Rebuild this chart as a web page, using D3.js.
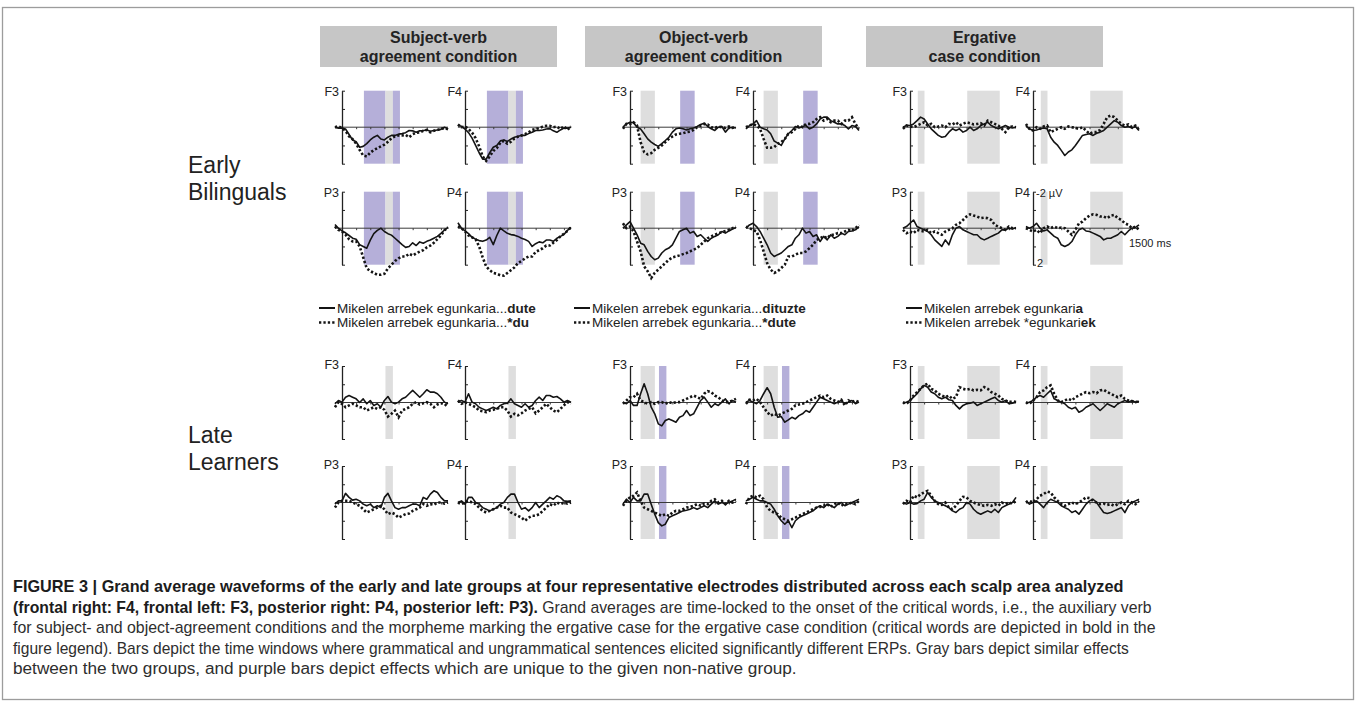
<!DOCTYPE html>
<html><head><meta charset="utf-8">
<script src="https://cdn.jsdelivr.net/npm/d3@7"></script>
<style>
body{margin:0;background:#fff;}
svg{display:block;font-family:Arial,"Liberation Sans",Helvetica,sans-serif;}
</style>
</head><body>
<svg id="chart" width="1357" height="706"></svg>
<script>
// ---------- DATA ----------
const times = [-100,-50,0,50,100,150,200,250,300,350,400,450,500,550,600,650,700,750,800,850,900,950,1000,1050,1100,1150,1200,1250,1300,1350,1400,1450,1500];
const conditionTitles = [["Subject-verb","agreement condition"],["Object-verb","agreement condition"],["Ergative","case condition"]];
const groupLabels = [["Early","Bilinguals"],["Late","Learners"]];
const electrodes = ["F3","F4","P3","P4"];

// significance windows (ms); kind: shared = gray, unique = purple
const winEarlySub = [{from:310,to:615,kind:"unique"},{from:615,to:720,kind:"shared"},{from:720,to:820,kind:"unique"}];
const winEarlyObj = [{from:150,to:352,kind:"shared"},{from:710,to:915,kind:"unique"}];
const winEarlyErg = [{from:110,to:205,kind:"shared"},{from:810,to:1270,kind:"shared"}];
const winLateSub  = [{from:615,to:720,kind:"shared"}];
const winLateObj  = [{from:150,to:352,kind:"shared"},{from:410,to:515,kind:"unique"}];
const winLateErg  = [{from:110,to:205,kind:"shared"},{from:810,to:1270,kind:"shared"}];

// waveforms in microvolts (negative plotted up); s = grammatical (solid), d = ungrammatical (dotted)
const eSubF3s = [0,0.05,0.05,0.1,0.4,0.7,0.8,1.1,1.05,0.9,0.7,0.55,0.45,0.65,0.7,0.55,0.45,0.45,0.38,0.35,0.3,0.18,0.2,0.28,0.2,0.18,0.15,0.22,0.18,0.15,0.12,0.0,0.08];
const eSubF3d = [0,-0.05,0.05,0.2,0.5,0.65,0.9,1.25,1.55,1.6,1.4,1.25,1.15,1.05,0.95,0.8,0.6,0.5,0.45,0.45,0.42,0.55,0.38,0.3,0.28,0.2,0.15,0.28,0.2,0.15,0.1,0.05,0.12];
const eSubF4s = [-0.1,-0.05,0.1,0.3,0.6,1.0,1.4,1.75,1.75,1.4,1.1,1.0,0.75,0.7,0.78,0.65,0.55,0.5,0.45,0.45,0.35,0.28,0.18,0.18,0.15,0.1,0.08,0.2,0.28,0.15,0.05,0.05,0.0];
const eSubF4d = [-0.15,0.0,-0.05,0.1,0.3,0.6,1.05,1.6,1.85,1.6,1.3,1.15,0.85,0.75,0.9,0.8,0.62,0.52,0.45,0.38,0.28,0.15,0.1,0.05,-0.03,-0.08,-0.08,0.0,-0.03,0.1,-0.05,0.15,-0.05];
const eSubP3s = [-0.2,0.0,0.15,0.25,0.4,0.55,0.6,0.9,1.0,1.1,0.65,0.3,0.12,0.0,0.18,0.3,0.38,0.55,0.72,0.9,1.05,1.0,0.8,0.95,0.75,0.82,0.72,0.65,0.55,0.45,0.28,0.1,-0.05];
const eSubP3d = [-0.1,0.1,0.18,0.35,0.6,0.72,0.72,1.0,1.6,2.2,2.35,2.45,2.55,2.55,2.5,2.2,2.0,1.8,1.65,1.55,1.55,1.4,1.5,1.38,1.28,1.2,1.05,0.95,0.8,0.6,0.4,0.12,-0.05];
const eSubP4s = [-0.3,0.0,0.15,0.3,0.5,0.6,0.68,0.72,0.65,0.5,0.9,0.4,0.0,0.15,0.28,0.35,0.38,0.45,0.55,0.62,0.72,1.0,0.85,0.75,0.8,0.65,0.65,0.72,0.55,0.45,0.35,0.12,-0.05];
const eSubP4d = [-0.1,0.0,0.18,0.4,0.5,0.6,1.0,1.6,2.1,2.3,2.45,2.5,2.58,2.6,2.45,2.3,2.15,1.9,1.8,1.65,1.55,1.55,1.3,1.2,1.1,0.95,0.95,0.8,0.65,0.45,0.3,0.15,-0.05];

const eObjF3s = [0.0,-0.18,-0.27,-0.25,0.0,0.1,0.36,0.64,0.82,0.95,1.05,0.9,0.73,0.55,0.27,0.09,0.04,0.09,0.15,0.09,0.04,-0.04,-0.15,-0.22,-0.04,0.09,0.18,0.0,-0.04,0.27,0.04,0.0,0.04];
const eObjF3d = [0.09,-0.18,-0.18,-0.27,-0.09,0.82,1.36,1.49,1.42,1.24,1.13,1.0,0.82,0.64,0.51,0.4,0.36,0.33,0.27,0.24,0.15,0.0,-0.09,-0.18,-0.15,0.0,0.04,-0.04,0.0,0.04,-0.04,0.04,0.0];
const eObjF4s = [0.09,-0.09,-0.18,-0.36,0.0,0.09,0.15,0.36,0.76,0.87,1.0,0.64,0.36,0.18,-0.04,0.04,-0.04,-0.09,0.09,0.0,-0.18,-0.45,-0.55,-0.55,-0.36,-0.27,-0.18,-0.18,-0.09,0.09,-0.09,-0.04,0.18];
const eObjF4d = [0.0,-0.09,-0.18,-0.09,0.09,0.64,1.13,1.13,1.09,0.91,0.82,0.64,0.36,0.27,0.09,-0.09,0.0,-0.18,-0.18,-0.27,-0.45,-0.55,-0.36,-0.45,-0.27,-0.36,-0.36,-0.18,-0.36,-0.36,-0.55,-0.18,0.09];
const eObjP3s = [0.0,-0.18,-0.36,0.0,0.36,0.82,0.91,1.27,1.55,1.73,1.64,1.36,1.18,1.09,0.91,0.55,0.18,0.09,0.0,0.27,0.18,0.45,0.36,0.55,0.73,0.55,0.45,0.36,0.18,0.27,0.15,0.04,-0.04];
const eObjP3d = [-0.27,0.0,-0.09,0.18,0.73,1.27,2.09,2.36,2.73,2.45,2.27,2.09,1.91,1.73,1.6,1.55,1.49,1.42,1.36,1.27,1.18,1.09,0.91,0.73,0.55,0.45,0.36,0.27,0.22,0.15,0.09,0.0,-0.09];
const eObjP4s = [0.0,-0.18,-0.27,-0.09,0.18,0.55,0.91,1.36,1.55,1.45,1.36,1.18,1.0,0.91,0.55,0.36,0.0,0.27,0.18,0.45,0.36,0.73,0.45,0.64,0.36,0.55,0.45,0.27,0.36,0.18,0.15,0.09,-0.09];
const eObjP4d = [-0.09,0.0,0.09,0.18,0.64,1.27,1.91,2.27,2.45,2.36,2.18,2.0,1.55,1.55,1.45,1.36,1.36,1.27,1.09,0.91,0.64,0.55,0.45,0.55,0.36,0.36,0.27,0.27,0.18,0.09,0.15,0.0,-0.18];

const eErgF3s = [0.0,-0.09,-0.09,-0.18,-0.36,-0.55,-0.45,-0.18,0.09,0.27,0.45,0.55,0.51,0.27,0.09,0.18,0.09,0.27,0.18,0.0,0.18,0.09,-0.09,-0.18,-0.27,-0.09,0.0,0.09,0.0,-0.09,0.0,0.04,0.0];
const eErgF3d = [0.09,-0.09,-0.04,0.0,-0.09,-0.18,-0.27,-0.09,-0.18,0.0,-0.04,-0.09,0.0,-0.18,-0.15,-0.27,-0.09,-0.18,-0.27,-0.22,-0.15,-0.18,-0.22,-0.09,-0.36,-0.27,-0.18,-0.09,0.09,0.27,0.0,-0.04,0.0];
const eErgF4s = [-0.09,0.09,0.18,0.15,0.09,0.04,0.09,0.55,0.82,1.0,1.27,1.55,1.36,1.24,1.0,0.73,0.45,0.4,0.36,0.45,0.33,0.27,0.18,0.0,-0.18,-0.36,-0.27,-0.09,0.0,-0.04,0.04,-0.04,0.18];
const eErgF4d = [-0.18,0.09,0.18,0.0,0.09,-0.04,-0.09,0.27,0.18,0.09,0.0,0.09,-0.04,0.0,0.04,0.09,0.0,0.18,0.36,0.27,0.27,0.15,-0.18,-0.55,-0.64,-0.55,-0.36,-0.18,-0.09,-0.15,0.0,-0.09,0.15];
const eErgP3s = [0.0,-0.09,-0.27,-0.45,-0.09,0.0,0.09,0.18,0.36,0.64,0.82,1.0,0.64,0.91,0.36,0.0,-0.09,0.09,0.18,0.27,0.36,0.36,0.55,0.64,0.55,0.45,0.36,0.27,0.09,0.09,0.0,0.04,-0.04];
const eErgP3d = [0.09,0.27,0.18,0.27,0.09,0.15,0.18,0.09,0.27,0.18,0.27,0.36,0.18,0.09,0.0,-0.18,-0.27,-0.45,-0.64,-0.76,-0.69,-0.64,-0.55,-0.58,-0.55,-0.45,-0.18,-0.09,0.0,0.09,-0.09,0.0,0.0];
const eErgP4s = [-0.09,0.0,-0.09,-0.27,0.0,0.15,0.09,0.27,0.45,0.55,0.91,1.0,0.91,0.73,0.36,0.09,0.0,0.15,0.18,0.27,0.36,0.45,0.64,0.55,0.55,0.45,0.36,0.18,0.36,0.15,0.0,-0.04,-0.18];
const eErgP4d = [0.0,0.09,0.18,0.09,0.27,0.0,-0.09,0.0,-0.09,0.0,-0.04,0.0,0.18,0.36,0.09,-0.27,-0.36,-0.55,-0.69,-0.76,-0.73,-0.64,-0.64,-0.55,-0.69,-0.73,-0.55,-0.45,-0.27,-0.18,0.0,-0.09,0.09];

const lSubF3s = [0.07,-0.11,-0.02,-0.29,-0.38,-0.29,-0.2,0.0,-0.2,0.07,-0.11,0.16,0.07,0.26,-0.11,-0.33,-0.02,0.07,-0.02,-0.2,-0.29,-0.48,-0.66,-0.48,-0.29,-0.48,-0.7,-0.57,-0.57,-0.48,-0.29,-0.02,0.07];
const lSubF3d = [0.26,-0.02,0.07,0.26,0.16,0.07,0.16,0.26,0.26,0.44,0.35,0.26,0.35,0.26,0.4,0.77,0.62,0.44,0.81,0.44,0.35,0.26,0.07,-0.02,0.11,0.04,-0.02,0.07,0.26,0.11,0.04,0.07,0.26];
const lSubF4s = [-0.02,-0.11,-0.02,-0.48,-0.02,0.07,0.26,0.35,0.44,0.35,0.26,0.35,0.16,0.07,0.04,-0.2,0.07,0.16,0.26,0.07,0.26,0.16,-0.11,-0.29,-0.11,-0.38,-0.38,-0.29,-0.33,-0.2,-0.02,-0.11,-0.02];
const lSubF4d = [-0.11,0.07,-0.02,0.07,0.16,0.26,0.44,0.48,0.53,0.44,0.4,0.35,0.26,0.26,0.44,0.77,0.62,0.7,0.59,0.44,0.35,0.26,0.59,0.44,0.26,0.07,0.26,0.44,0.53,0.35,0.16,-0.02,0.07];
const lSubP3s = [0.09,-0.09,-0.09,-0.5,-0.28,-0.13,-0.18,-0.09,0.09,0.18,0.09,0.28,0.18,0.28,-0.28,-0.5,-0.09,0.28,0.37,0.28,0.28,0.18,0.09,0.09,0.18,-0.28,-0.18,-0.46,-0.64,-0.55,-0.28,-0.09,-0.09];
const lSubP3d = [0.28,0.0,-0.09,-0.09,-0.09,0.0,0.09,0.18,0.37,0.55,0.46,0.37,0.28,0.18,0.37,0.64,0.55,0.64,0.83,0.73,0.64,0.6,0.46,0.37,0.28,0.09,0.18,0.09,0.13,0.0,0.0,0.06,0.0];
const lSubP4s = [0.0,-0.09,0.09,-0.28,-0.28,0.0,0.09,0.28,0.37,0.46,0.37,0.28,0.09,0.0,-0.28,-0.46,-0.46,0.0,0.37,0.28,0.46,0.28,0.0,0.28,0.09,-0.09,-0.28,-0.18,-0.37,-0.28,-0.09,-0.06,-0.09];
const lSubP4d = [0.0,0.09,0.0,-0.09,0.0,0.09,0.28,0.46,0.55,0.46,0.37,0.28,0.18,0.28,0.28,0.55,0.64,0.73,0.83,1.0,0.83,0.73,0.73,0.64,0.46,0.28,0.09,0.18,0.0,0.09,0.0,0.06,0.0];

const lObjF3s = [-0.02,0.07,-0.11,0.16,0.16,-0.48,-1.03,-0.48,0.26,0.62,1.17,1.28,0.99,0.9,0.99,1.08,0.81,0.72,0.44,0.72,0.62,0.26,-0.11,-0.29,-0.02,0.26,0.07,0.16,-0.02,-0.2,0.07,-0.11,-0.02];
const lObjF3d = [0.07,-0.11,-0.29,-0.29,-0.48,-0.11,-0.02,0.07,-0.02,0.07,-0.02,-0.02,0.07,-0.02,0.04,-0.02,-0.02,-0.11,-0.2,-0.29,-0.38,-0.29,-0.2,-0.48,-0.62,-0.57,-0.38,-0.29,-0.11,-0.02,-0.02,-0.11,-0.2];
const lObjF4s = [-0.02,-0.11,-0.02,0.07,-0.11,-0.48,-0.81,-0.48,0.26,0.81,0.77,1.08,0.95,0.81,0.9,0.72,0.62,0.44,0.53,0.26,-0.02,-0.29,-0.2,-0.11,-0.02,0.07,-0.02,-0.11,0.07,-0.02,-0.11,0.07,-0.02];
const lObjF4d = [0.07,-0.15,-0.11,-0.2,-0.02,0.26,0.53,0.72,0.62,0.72,0.62,0.53,0.44,0.35,0.16,0.11,0.07,-0.02,-0.11,-0.2,-0.29,-0.38,-0.29,-0.38,-0.2,-0.11,-0.02,-0.15,0.16,-0.11,-0.02,-0.11,-0.02];
const lObjP3s = [0.09,-0.18,0.0,-0.28,-0.09,-0.09,-0.46,-0.46,0.09,0.64,1.1,1.28,1.19,0.83,0.73,0.64,0.55,0.46,0.42,0.37,0.28,0.37,0.28,0.18,0.28,0.09,-0.09,0.09,0.0,0.09,0.0,-0.09,-0.18];
const lObjP3d = [0.18,-0.09,-0.28,-0.37,-0.55,-0.09,0.28,0.37,0.46,0.55,0.64,0.73,0.64,0.73,0.55,0.46,0.46,0.37,0.28,0.24,0.18,0.09,0.18,0.06,0.09,-0.09,-0.18,0.0,-0.09,0.09,-0.09,0.0,-0.09];
const lObjP4s = [-0.09,-0.18,-0.28,-0.18,-0.09,-0.09,0.0,0.09,0.37,0.73,1.0,1.19,1.0,1.38,1.0,0.83,0.73,0.64,0.55,0.46,0.28,0.18,0.28,0.09,0.18,0.28,0.09,0.0,0.18,0.09,0.0,-0.09,-0.18];
const lObjP4d = [0.09,-0.28,-0.37,-0.28,-0.37,-0.18,0.28,0.46,0.55,0.64,0.83,0.92,1.0,0.92,0.83,0.73,0.64,0.55,0.46,0.37,0.28,0.24,0.18,0.09,0.24,0.09,0.0,0.18,0.06,0.09,0.0,0.09,-0.09];

const lErgF3s = [0.07,-0.02,-0.11,-0.29,-0.48,-0.75,-0.94,-0.84,-0.57,-0.48,-0.29,-0.2,-0.29,-0.15,-0.11,0.16,0.35,0.16,0.07,0.04,-0.02,0.16,0.07,-0.02,-0.11,-0.2,-0.29,-0.11,-0.02,-0.11,0.07,0.04,-0.02];
const lErgF3d = [-0.02,0.07,-0.11,-0.38,-0.57,-0.75,-0.94,-1.03,-0.75,-0.66,-0.48,-0.38,-0.29,-0.38,-0.2,-0.29,-0.84,-0.75,-0.7,-0.75,-0.66,-0.7,-0.66,-0.84,-0.75,-0.57,-0.48,-0.38,-0.2,-0.11,-0.02,-0.07,-0.02];
const lErgF4s = [0.07,-0.02,-0.11,-0.29,-0.38,-0.29,-0.48,-0.66,-0.2,-0.11,-0.02,0.07,0.26,0.35,0.26,0.53,0.44,0.26,0.16,0.07,0.26,0.44,0.26,0.07,0.16,0.26,0.07,-0.02,-0.11,-0.02,-0.11,-0.02,-0.07];
const lErgF4d = [-0.02,0.07,-0.11,-0.29,-0.57,-0.66,-0.84,-0.94,-0.48,-0.11,-0.02,-0.11,-0.2,-0.11,-0.29,-0.38,-0.48,-0.57,-0.51,-0.57,-0.51,-0.66,-0.7,-0.57,-0.48,-0.38,-0.29,-0.38,-0.2,-0.11,-0.07,-0.02,-0.07];
const lErgP3s = [0.0,0.09,0.0,0.09,0.06,-0.09,-0.18,-0.55,-0.28,-0.09,0.0,0.09,0.18,0.28,0.46,0.55,0.37,0.28,0.0,0.09,0.37,0.55,0.64,0.55,0.46,0.55,0.37,0.55,0.28,0.18,0.09,0.0,-0.28];
const lErgP3d = [0.09,-0.09,0.0,-0.37,-0.28,-0.46,-0.55,-0.64,-0.37,-0.09,0.09,0.13,0.0,0.28,0.37,0.18,-0.09,-0.31,-0.28,-0.09,0.0,0.09,0.13,0.18,0.13,0.18,0.09,0.18,0.0,0.09,0.0,0.06,-0.09];
const lErgP4s = [-0.09,0.09,0.0,-0.09,0.09,0.28,0.0,-0.18,-0.09,0.0,0.18,0.28,0.37,0.55,0.46,0.64,0.37,0.09,-0.09,-0.18,0.0,0.28,0.55,0.6,0.55,0.46,0.37,0.28,0.55,0.18,0.0,-0.09,-0.18];
const lErgP4d = [0.0,-0.09,0.0,-0.18,-0.37,-0.46,-0.6,-0.55,-0.28,-0.09,0.09,0.18,0.09,0.0,0.09,0.0,-0.13,-0.28,-0.24,-0.09,0.0,0.09,0.06,0.13,0.09,0.18,0.09,0.0,0.09,-0.09,0.0,0.09,-0.09];

const legendSolid  = [["Mikelen arrebek egunkaria...","dute"],["Mikelen arrebek egunkaria...","dituzte"],["Mikelen arrebek egunkari","a"]];
const legendDotted = [["Mikelen arrebek egunkaria...","*du"],["Mikelen arrebek egunkaria...","*dute"],["Mikelen arrebek *egunkari","ek"]];

const captionLines = [
  [["FIGURE 3 | Grand average waveforms of the early and late groups at four representative electrodes distributed across each scalp area analyzed", true]],
  [["(frontal right: F4, frontal left: F3, posterior right: P4, posterior left: P3).", true], [" Grand averages are time-locked to the onset of the critical words, i.e., the auxiliary verb", false]],
  [["for subject- and object-agreement conditions and the morpheme marking the ergative case for the ergative case condition (critical words are depicted in bold in the", false]],
  [["figure legend). Bars depict the time windows where grammatical and ungrammatical sentences elicited significantly different ERPs. Gray bars depict similar effects", false]],
  [["between the two groups, and purple bars depict effects which are unique to the given non-native group.", false]]
];

// ---------- ASSEMBLY ----------
const waves = {
  early: {
    Sub: {F3:[eSubF3s,eSubF3d],F4:[eSubF4s,eSubF4d],P3:[eSubP3s,eSubP3d],P4:[eSubP4s,eSubP4d]},
    Obj: {F3:[eObjF3s,eObjF3d],F4:[eObjF4s,eObjF4d],P3:[eObjP3s,eObjP3d],P4:[eObjP4s,eObjP4d]},
    Erg: {F3:[eErgF3s,eErgF3d],F4:[eErgF4s,eErgF4d],P3:[eErgP3s,eErgP3d],P4:[eErgP4s,eErgP4d]}
  },
  late: {
    Sub: {F3:[lSubF3s,lSubF3d],F4:[lSubF4s,lSubF4d],P3:[lSubP3s,lSubP3d],P4:[lSubP4s,lSubP4d]},
    Obj: {F3:[lObjF3s,lObjF3d],F4:[lObjF4s,lObjF4d],P3:[lObjP3s,lObjP3d],P4:[lObjP4s,lObjP4d]},
    Erg: {F3:[lErgF3s,lErgF3d],F4:[lErgF4s,lErgF4d],P3:[lErgP3s,lErgP3d],P4:[lErgP4s,lErgP4d]}
  }
};
const windows = {
  early: {Sub: winEarlySub, Obj: winEarlyObj, Erg: winEarlyErg},
  late:  {Sub: winLateSub,  Obj: winLateObj,  Erg: winLateErg}
};

// ---------- LAYOUT ----------
const svg = d3.select("#chart");
const condKeys = ["Sub","Obj","Erg"];
const groupKeys = ["early","late"];
const axisX = {Sub:[342,465], Obj:[630,753], Erg:[910,1033]};
const rowTop = {early:{F:90.7,P:191.7}, late:{F:366,P:466}};
const labelDy = {early:5.5, late:2.5};
const panelH = 73, spanW = 106;
const fillKind = {unique:"#b5afd9", shared:"#dedede"};

// outer frame
svg.append("rect").attr("x",2.5).attr("y",7.5).attr("width",1351).attr("height",692)
  .attr("fill","none").attr("stroke","#9c9c9c").attr("stroke-width",1.3);

// header boxes
const headerX = [320,585,866], headerW = 237;
conditionTitles.forEach((lines,i)=>{
  svg.append("rect").attr("x",headerX[i]).attr("y",26).attr("width",headerW).attr("height",41).attr("fill","#c6c6c6");
  lines.forEach((t,j)=>{
    svg.append("text").attr("x",headerX[i]+headerW/2).attr("y",43+j*18.5)
      .attr("text-anchor","middle").attr("font-size",16).attr("font-weight","bold").attr("fill","#232323").text(t);
  });
});

// group labels
const groupBase = [[173,200],[443,470]];
groupLabels.forEach((lines,i)=>{
  lines.forEach((t,j)=>{
    svg.append("text").attr("x",188).attr("y",groupBase[i][j]).attr("font-size",23).attr("fill","#222").text(t);
  });
});

// panels
const line = (x,y)=>d3.line().x((d,i)=>x(times[i])).y(d=>y(d));
groupKeys.forEach(g=>{
  condKeys.forEach(c=>{
    electrodes.forEach(e=>{
      const ax = axisX[c][e.endsWith("3")?0:1];
      const top = rowTop[g][e[0]];
      const x = d3.scaleLinear().domain([0,1500]).range([ax, ax+spanW]);
      const y = d3.scaleLinear().domain([-2,2]).range([top, top+panelH]);
      const p = svg.append("g");
      p.selectAll("rect.win").data(windows[g][c]).join("rect")
        .attr("x",d=>x(d.from)).attr("width",d=>x(d.to)-x(d.from))
        .attr("y",y(-2)).attr("height",y(2)-y(-2))
        .attr("fill",d=>fillKind[d.kind]);
      p.append("line").attr("x1",x(-100)).attr("x2",x(1500)).attr("y1",y(0)).attr("y2",y(0))
        .attr("stroke","#3a3a3a").attr("stroke-width",1);
      const xa = p.append("g").attr("transform",`translate(0,${y(0)})`)
        .call(d3.axisBottom(x).tickValues([200,400,600,800,1000,1200,1400]).tickSize(2).tickFormat(""));
      xa.select(".domain").remove();
      xa.selectAll("line").attr("stroke","#3a3a3a");
      const ya = p.append("g").attr("transform",`translate(${ax},0)`)
        .call(d3.axisRight(y).tickValues([-2,-1,1,2]).tickSize(3).tickSizeOuter(0).tickFormat(""));
      ya.select(".domain").attr("stroke","#222").attr("stroke-width",1.3);
      ya.selectAll("line").attr("stroke","#222");
      const [sol, dot] = waves[g][c][e];
      p.append("path").attr("d",line(x,y)(sol)).attr("fill","none")
        .attr("stroke","#141414").attr("stroke-width",1.6).attr("stroke-linejoin","round");
      p.append("path").attr("d",line(x,y)(dot)).attr("fill","none")
        .attr("stroke","#141414").attr("stroke-width",2.6).attr("stroke-dasharray","2.3,2.1");
      p.append("text").attr("x",ax-3).attr("y",top+labelDy[g]).attr("text-anchor","end")
        .attr("font-size",12.5).attr("fill","#222").text(e);
      if (g==="early" && c==="Erg" && e==="P4") {
        p.append("text").attr("x",ax+3).attr("y",top+5).attr("font-size",11).attr("fill","#222").text("-2 \u00B5V");
        p.append("text").attr("x",ax+4).attr("y",top+panelH+2).attr("font-size",11).attr("fill","#222").text("2");
        p.append("text").attr("x",x(1500)-10).attr("y",y(0)+19).attr("font-size",11).attr("fill","#222").text("1500 ms");
      }
    });
  });
});

// legends
const legendX = [319,574,906];
const legendBase = [312.5,327];
[legendSolid, legendDotted].forEach((items,r)=>{
  items.forEach((it,i)=>{
    const sy = legendBase[r]-4.5;
    const l = svg.append("line").attr("x1",legendX[i]).attr("x2",legendX[i]+16).attr("y1",sy).attr("y2",sy)
      .attr("stroke","#141414");
    if (r===0) l.attr("stroke-width",2);
    else l.attr("stroke-width",2.6).attr("stroke-dasharray","2.3,2.1");
    const t = svg.append("text").attr("x",legendX[i]+18).attr("y",legendBase[r]).attr("font-size",13.5).attr("fill","#222");
    t.append("tspan").text(it[0]);
    t.append("tspan").attr("font-weight","bold").text(it[1]);
  });
});

// caption
const capRight = [1125,1153,1157,1130,797];
const capLeft = 13;
captionLines.forEach((parts,i)=>{
  const base = 592 + i*20.6;
  const t = svg.append("text").attr("x",0).attr("y",0).attr("font-size",16);
  parts.forEach(([s,b])=>{
    t.append("tspan").attr("font-weight",b?"bold":"normal").attr("fill",b?"#1c1c1c":"#2e2e2e").text(s);
  });
  const w = t.node().getComputedTextLength();
  const sx = (capRight[i]-capLeft)/w;
  t.attr("transform",`translate(${capLeft},${base}) scale(${sx},1)`);
});
</script>
</body></html>
